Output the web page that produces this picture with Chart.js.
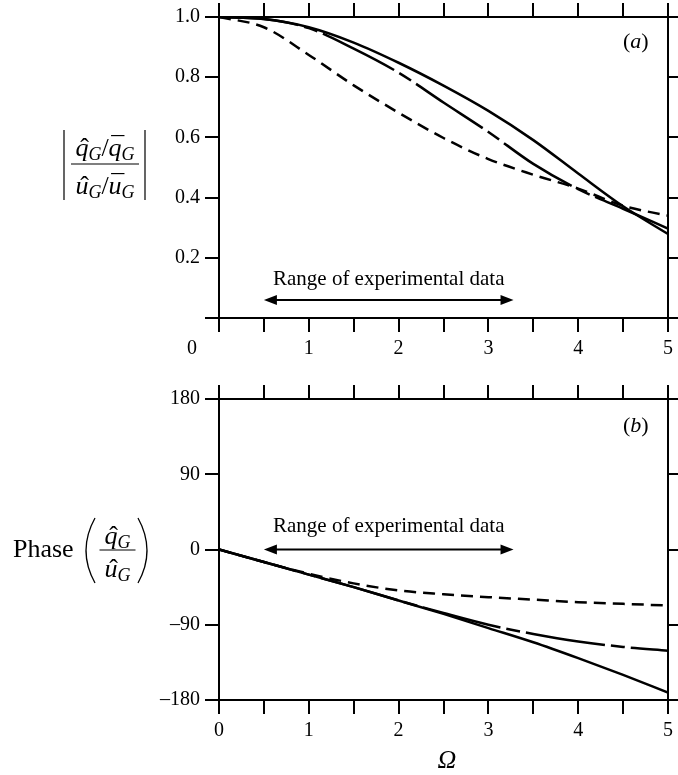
<!DOCTYPE html>
<html lang="en">
<head>
<meta charset="UTF-8">
<title>Gain and phase of q_G / u_G</title>
<script src="https://cdn.jsdelivr.net/npm/chart.js"></script>
<style>
    body {
        margin: 0;
        background: #fff;
    }
    .wrap {
        position: relative;
        width: 678px;
        height: 775px;
    }
    .wrap canvas {
        position: absolute;
        left: 0;
    }
</style>
</head>
<body>
<div class="wrap">
    <canvas id="gain" width="678" height="360" style="top:0"></canvas>
    <canvas id="phase" width="678" height="415" style="top:360px"></canvas>
</div>
<script>
// values, Omega = 0 .. 5
const omega = [0, 0.5, 1, 1.5, 2, 2.5, 3, 3.5, 4, 4.5, 5];
const gainSolid = [1.0, 0.993, 0.966, 0.915, 0.848, 0.772, 0.688, 0.591, 0.480, 0.371, 0.279];
const gainLongDash = [1.0, 0.993, 0.963, 0.895, 0.815, 0.716, 0.618, 0.512, 0.428, 0.363, 0.297];
const gainShortDash = [1.0, 0.966, 0.874, 0.773, 0.682, 0.598, 0.528, 0.476, 0.430, 0.373, 0.340];
const phaseSolid = [0, -15, -30, -45, -61, -77, -94, -111, -130, -150, -171];
const phaseLongDash = [0, -15, -30, -45, -61, -76, -90, -101, -110, -116.5, -121];
const phaseShortDash = [0, -15, -29, -40.5, -49, -53.5, -57, -60, -63, -65, -67];

const xTicks = [0, 0.5, 1, 1.5, 2, 2.5, 3, 3.5, 4, 4.5, 5];
const gainTicks = [0, 0.2, 0.4, 0.6, 0.8, 1.0];
const phaseTicks = [-180, -90, 0, 90, 180];
const dataRange = [0.5, 3.28];   // range of experimental data, in Omega

const SERIF = '"Liberation Serif", "Times New Roman", serif';
const tickFont = { family: SERIF, size: 20 };

const axisGrid = {
    drawOnChartArea: false,
    drawTicks: true,
    tickLength: 14,
    tickWidth: 2,
    tickColor: '#000',
    color: '#000',
    lineWidth: 2
};
const axisBorder = { display: true, color: '#000', width: 2 };

function setTicks(values) {
    return s => { s.ticks = values.map(v => ({ value: v })); };
}

function lineSet(ys, dash) {
    return {
        data: omega.map((x, i) => ({ x: x, y: ys[i] })),
        borderColor: '#000',
        borderWidth: 2.5,
        borderDash: dash,
        pointRadius: 0,
        fill: false,
        cubicInterpolationMode: 'monotone'
    };
}

function buildScales(yMin, yMax, yTickValues, yLabel, topH, bottomH, xLabel) {
    return {
        x: {
            type: 'linear', position: 'bottom', min: 0, max: 5,
            afterBuildTicks: setTicks(xTicks),
            afterFit: s => { s.height = bottomH; },
            grid: axisGrid, border: axisBorder,
            ticks: { padding: 5, color: '#000', font: tickFont, autoSkip: false, maxRotation: 0, callback: xLabel }
        },
        xTop: {
            type: 'linear', position: 'top', min: 0, max: 5,
            afterBuildTicks: setTicks(xTicks),
            afterFit: s => { s.height = topH; },
            grid: axisGrid, border: axisBorder,
            ticks: { display: false }
        },
        y: {
            type: 'linear', position: 'left', min: yMin, max: yMax,
            afterBuildTicks: setTicks(yTickValues),
            afterFit: s => { s.width = 219; },
            grid: axisGrid, border: axisBorder,
            ticks: { padding: 5, color: '#000', font: tickFont, callback: yLabel }
        },
        yRight: {
            type: 'linear', position: 'right', min: yMin, max: yMax,
            afterBuildTicks: setTicks(yTickValues),
            afterFit: s => { s.width = 7; },
            grid: axisGrid, border: axisBorder,
            ticks: { display: false }
        }
    };
}

// --- little text helpers for the axis titles ---
function font(size, italic) {
    return (italic ? 'italic ' : '') + size + 'px ' + SERIF;
}
function runWidth(ctx, parts) {
    let w = 0;
    for (const p of parts) {
        ctx.font = font(p.size, p.it);
        w += ctx.measureText(p.t).width;
    }
    return w;
}
function drawRun(ctx, x, y, parts) {
    ctx.textAlign = 'left';
    ctx.textBaseline = 'alphabetic';
    for (const p of parts) {
        ctx.font = font(p.size, p.it);
        const w = ctx.measureText(p.t).width;
        ctx.fillText(p.t, x, y + (p.dy || 0));
        if (p.acc) {
            ctx.font = font(p.size, false);
            ctx.textAlign = 'center';
            ctx.fillText(p.acc, x + w / 2 + p.size * 0.1, y + (p.dy || 0) + (p.accDy || 0));
            ctx.textAlign = 'left';
        }
        x += w;
    }
}
function drawFrac(ctx, cx, numY, lineY, denY, half, num, den) {
    drawRun(ctx, cx - runWidth(ctx, num) / 2, numY, num);
    drawRun(ctx, cx - runWidth(ctx, den) / 2, denY, den);
    ctx.lineWidth = 1.2;
    ctx.beginPath();
    ctx.moveTo(cx - half, lineY);
    ctx.lineTo(cx + half, lineY);
    ctx.stroke();
}
function drawRange(ctx, xs, y, gap) {
    const x1 = xs.getPixelForValue(dataRange[0]);
    const x2 = xs.getPixelForValue(dataRange[1]);
    ctx.lineWidth = 2;
    ctx.beginPath();
    ctx.moveTo(x1 + 6, y);
    ctx.lineTo(x2 - 6, y);
    ctx.stroke();
    ctx.beginPath();
    ctx.moveTo(x1, y); ctx.lineTo(x1 + 13, y - 5); ctx.lineTo(x1 + 13, y + 5); ctx.closePath();
    ctx.moveTo(x2, y); ctx.lineTo(x2 - 13, y - 5); ctx.lineTo(x2 - 13, y + 5); ctx.closePath();
    ctx.fill();
    ctx.font = font(21, false);
    ctx.textAlign = 'center';
    ctx.textBaseline = 'alphabetic';
    ctx.fillText('Range of experimental data', (x1 + x2) / 2, y - gap);
}
function drawTag(ctx, letter, x, y) {
    drawRun(ctx, x, y, [
        { t: '(', size: 22 },
        { t: letter, size: 22, it: true },
        { t: ')', size: 22 }
    ]);
}

const M = 26, S = 18;
const HAT = '\u02C6', BAR = '\u00AF';

const gainExtras = {
    id: 'gainExtras',
    afterDraw(chart) {
        const ctx = chart.ctx;
        ctx.save();
        ctx.fillStyle = '#000';
        ctx.strokeStyle = '#000';
        drawRange(ctx, chart.scales.x, chart.scales.y.getPixelForValue(0.06), 15);
        drawTag(ctx, 'a', 623, 48);

        ctx.font = font(20, false);
        ctx.textAlign = 'center';
        ctx.textBaseline = 'middle';
        ctx.fillText('0', 192, 349);

        const num = [
            { t: 'q', it: true, size: M, acc: HAT },
            { t: 'G', it: true, size: S, dy: 4 },
            { t: '/', size: M },
            { t: 'q', it: true, size: M, acc: BAR, accDy: -2 },
            { t: 'G', it: true, size: S, dy: 4 }
        ];
        const den = [
            { t: 'u', it: true, size: M, acc: HAT },
            { t: 'G', it: true, size: S, dy: 4 },
            { t: '/', size: M },
            { t: 'u', it: true, size: M, acc: BAR, accDy: -2 },
            { t: 'G', it: true, size: S, dy: 4 }
        ];
        drawFrac(ctx, 105, 156, 164, 194, 34, num, den);
        ctx.lineWidth = 1.2;
        ctx.beginPath();
        ctx.moveTo(64, 130); ctx.lineTo(64, 200);
        ctx.moveTo(145, 130); ctx.lineTo(145, 200);
        ctx.stroke();
        ctx.restore();
    }
};

const phaseExtras = {
    id: 'phaseExtras',
    afterDraw(chart) {
        const ctx = chart.ctx;
        ctx.save();
        ctx.fillStyle = '#000';
        ctx.strokeStyle = '#000';
        drawRange(ctx, chart.scales.x, chart.scales.y.getPixelForValue(0), 18);
        drawTag(ctx, 'b', 623, 72);

        ctx.font = font(26, false);
        ctx.textAlign = 'left';
        ctx.textBaseline = 'alphabetic';
        ctx.fillText('Phase', 13, 197);

        const num = [
            { t: 'q', it: true, size: M, acc: HAT },
            { t: 'G', it: true, size: S, dy: 4 }
        ];
        const den = [
            { t: 'u', it: true, size: M, acc: HAT },
            { t: 'G', it: true, size: S, dy: 4 }
        ];
        drawFrac(ctx, 117.5, 184, 190, 217, 18, num, den);
        ctx.lineWidth = 1.3;
        ctx.beginPath();
        ctx.moveTo(95, 158); ctx.quadraticCurveTo(77, 190.5, 95, 223);
        ctx.moveTo(138, 158); ctx.quadraticCurveTo(156, 190.5, 138, 223);
        ctx.stroke();

        ctx.font = font(26, true);
        ctx.textAlign = 'center';
        ctx.fillText('\u03A9', 447, 408);
        ctx.restore();
    }
};

const commonOptions = {
    responsive: false,
    animation: false,
    layout: { padding: 0 },
    plugins: { legend: { display: false }, tooltip: { enabled: false } }
};

new Chart(document.getElementById('gain'), {
    type: 'line',
    data: {
        datasets: [
            lineSet(gainSolid, []),
            lineSet(gainLongDash, [80, 6, 14, 6]),
            lineSet(gainShortDash, [12, 7])
        ]
    },
    options: Object.assign({}, commonOptions, {
        scales: buildScales(0, 1, gainTicks,
            v => v === 0 ? '' : v.toFixed(1), 17, 42,
            v => (Number.isInteger(v) && v > 0) ? String(v) : '')
    }),
    plugins: [gainExtras]
});

new Chart(document.getElementById('phase'), {
    type: 'line',
    data: {
        datasets: [
            lineSet(phaseSolid, []),
            lineSet(phaseLongDash, [80, 6, 14, 6]),
            lineSet(phaseShortDash, [12, 7])
        ]
    },
    options: Object.assign({}, commonOptions, {
        scales: buildScales(-180, 180, phaseTicks,
            v => v < 0 ? '\u2013' + Math.abs(v) : String(v), 39, 75,
            v => Number.isInteger(v) ? String(v) : '')
    }),
    plugins: [phaseExtras]
});
</script>
</body>
</html>
